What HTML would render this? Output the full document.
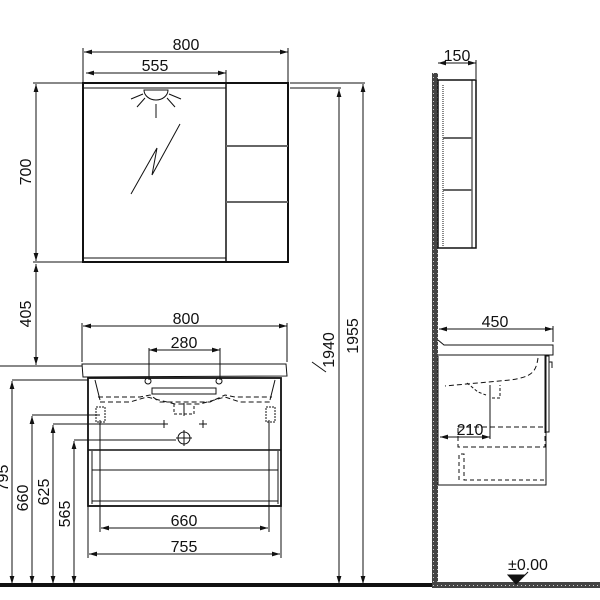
<!DOCTYPE html>
<html><head><meta charset="utf-8"><style>
html,body{margin:0;padding:0;background:#fff;}
svg{display:block;}
text{font-family:"Liberation Sans",sans-serif;font-size:16px;fill:#111;}
</style></head><body>
<svg width="600" height="600" viewBox="0 0 600 600" xmlns="http://www.w3.org/2000/svg">
<defs>
<marker id="a" viewBox="0 0 10 6" refX="10" refY="3" markerWidth="8" markerHeight="5" orient="auto-start-reverse" markerUnits="userSpaceOnUse"><path d="M0,0 L10,3 L0,6z" fill="#111"/></marker>
<pattern id="hatch" width="4" height="4" patternUnits="userSpaceOnUse"><rect width="4" height="4" fill="#444"/><rect x="1" y="1" width="1" height="1" fill="#ccc"/></pattern>
</defs>
<g stroke="#111" fill="none" stroke-width="1">
<!-- MIRROR front -->
<rect x="83" y="83" width="205" height="179" stroke-width="2"/>
<line x1="226" y1="83" x2="226" y2="262" stroke-width="1.5"/>
<line x1="84" y1="88" x2="226" y2="88"/>
<line x1="84" y1="258" x2="226" y2="258"/>
<line x1="226" y1="146" x2="288" y2="146" stroke-width="2" stroke="#666"/>
<line x1="226" y1="202" x2="288" y2="202" stroke-width="2" stroke="#666"/>
<path d="M144,90 A12,10 0 0 0 168,90 Z"/>
<line x1="156" y1="104" x2="156" y2="118"/>
<line x1="145" y1="98" x2="137" y2="107"/>
<line x1="167" y1="98" x2="175" y2="107"/>
<line x1="143" y1="94" x2="131" y2="99"/>
<line x1="169" y1="94" x2="181" y2="99"/>
<polyline points="131,194 157,148 152,175 180,124"/>
<!-- mirror dims -->
<line x1="84" y1="52" x2="288" y2="52" marker-start="url(#a)" marker-end="url(#a)"/>
<line x1="288" y1="48" x2="288" y2="82"/>
<line x1="83" y1="48" x2="83" y2="82"/>
<line x1="86" y1="73" x2="226" y2="73" marker-start="url(#a)" marker-end="url(#a)"/>
<line x1="226" y1="70" x2="226" y2="82"/>
<line x1="33" y1="83" x2="82" y2="83"/>
<line x1="33" y1="262" x2="82" y2="262"/>
<line x1="36" y1="84" x2="36" y2="261" marker-start="url(#a)" marker-end="url(#a)"/>
<line x1="36" y1="264" x2="36" y2="365" marker-start="url(#a)" marker-end="url(#a)"/>
<line x1="290" y1="83" x2="365" y2="83"/>
<line x1="290" y1="88" x2="341" y2="88"/>
<line x1="339" y1="89" x2="339" y2="584" marker-start="url(#a)" marker-end="url(#a)"/>
<line x1="363" y1="84" x2="363" y2="584" marker-start="url(#a)" marker-end="url(#a)"/>
<line x1="312" y1="362" x2="326" y2="372"/>
<!-- SINK front -->
<path d="M82,364 L286,364 L287,376 L83,377 Z"/>
<line x1="0" y1="366" x2="82" y2="366"/>
<rect x="88" y="378" width="193" height="128" stroke-width="1.8"/>
<line x1="88" y1="450" x2="281" y2="450" stroke-width="1.5"/>
<line x1="92" y1="470" x2="278" y2="470"/>
<line x1="92" y1="501" x2="278" y2="501"/>
<line x1="92" y1="451" x2="92" y2="504"/>
<line x1="278" y1="451" x2="278" y2="504"/>
<rect x="152" y="388" width="64" height="6"/>
<circle cx="148" cy="381" r="3"/><circle cx="219" cy="381" r="3"/>
<path d="M95,380 L100,400 M275,380 L270,400"/>
<path d="M98,397 L140,397 L150,395 L160,402 L210,402 L225,395 L235,397 L272,397" stroke-dasharray="5,3"/>
<path d="M100,402 L130,402 L147,397 L175,404 L200,404 L225,397 L240,402 L270,402" stroke-dasharray="5,3"/>
<path d="M174,404 L174,414 L194,414 L194,404" stroke-dasharray="3,2"/>
<line x1="184" y1="403" x2="184" y2="416"/>
<rect x="96" y="407" width="9" height="15" stroke-dasharray="2,1"/>
<rect x="266" y="407" width="9" height="15" stroke-dasharray="2,1"/>
<circle cx="184" cy="438" r="6"/>
<line x1="184" y1="430" x2="184" y2="446"/><line x1="176" y1="438" x2="192" y2="438"/>
<path d="M164,420 v8 M160,424 h8 M203,420 v8 M199,424 h8"/>
<!-- sink dims -->
<line x1="83" y1="326" x2="287" y2="326" marker-start="url(#a)" marker-end="url(#a)"/>
<line x1="82" y1="323" x2="82" y2="362"/><line x1="287" y1="323" x2="287" y2="362"/>
<line x1="149" y1="350" x2="220" y2="350" marker-start="url(#a)" marker-end="url(#a)"/>
<line x1="149" y1="348" x2="149" y2="380"/><line x1="220" y1="348" x2="220" y2="380"/>
<line x1="12" y1="380" x2="88" y2="380"/>
<line x1="32" y1="415" x2="100" y2="415"/>
<line x1="53" y1="424" x2="162" y2="424"/>
<line x1="74" y1="440" x2="176" y2="440"/>
<line x1="12" y1="381" x2="12" y2="584" marker-start="url(#a)" marker-end="url(#a)"/>
<line x1="32" y1="416" x2="32" y2="584" marker-start="url(#a)" marker-end="url(#a)"/>
<line x1="53" y1="425" x2="53" y2="584" marker-start="url(#a)" marker-end="url(#a)"/>
<line x1="74" y1="441" x2="74" y2="584" marker-start="url(#a)" marker-end="url(#a)"/>
<line x1="100" y1="420" x2="100" y2="532"/><line x1="269" y1="420" x2="269" y2="532"/>
<line x1="101" y1="528" x2="268" y2="528" marker-start="url(#a)" marker-end="url(#a)"/>
<line x1="88" y1="506" x2="88" y2="558"/><line x1="281" y1="506" x2="281" y2="558"/>
<line x1="89" y1="554" x2="280" y2="554" marker-start="url(#a)" marker-end="url(#a)"/>
<!-- SIDE view -->
<rect x="432" y="73" width="6" height="513" fill="url(#hatch)" stroke="none"/>
<rect x="432" y="582" width="168" height="6" fill="url(#hatch)" stroke="none"/>
<rect x="438" y="80" width="38" height="168" stroke-width="1.5"/>
<line x1="472" y1="80" x2="472" y2="248"/>
<line x1="443" y1="85" x2="443" y2="246" stroke-dasharray="1,1"/>
<line x1="443" y1="138" x2="472" y2="138" stroke-width="2" stroke="#666"/>
<line x1="443" y1="190" x2="472" y2="190" stroke-width="2" stroke="#666"/>
<line x1="438" y1="63" x2="476" y2="63" marker-start="url(#a)" marker-end="url(#a)"/>
<line x1="476" y1="60" x2="476" y2="79"/>
<line x1="439" y1="329" x2="553" y2="329" marker-start="url(#a)" marker-end="url(#a)"/>
<line x1="553" y1="326" x2="553" y2="342"/>
<path d="M438,340 L444,345 L553,345 L553,355 L438,355"/>
<path d="M438,356 L438,485 L546,485 L546,356"/>
<rect x="545" y="356" width="4" height="76"/>
<path d="M549,362 L552,362 L552,368"/>
<path d="M538,358 C536,372 532,377 510,380 L445,386" stroke-dasharray="5,3"/>
<path d="M467,383 L478,392 L486,395" stroke-dasharray="3,2"/>
<path d="M490,385 L490,398 L500,398 L500,385" stroke-dasharray="3,2"/>
<rect x="458" y="427" width="87" height="20" stroke-dasharray="5,3"/>
<line x1="490" y1="386" x2="490" y2="439"/>
<line x1="440" y1="437" x2="490" y2="437" marker-start="url(#a)" marker-end="url(#a)"/>
<path d="M459,480 L459,454 L464,454 L464,480 L545,480" stroke-dasharray="4,3"/>
<path d="M508,575 L524,575 L516,584 Z" fill="#111"/>
<line x1="516" y1="584" x2="528" y2="572"/>
<line x1="0" y1="585" x2="432" y2="585" stroke-width="4"/>
</g>
<text x="186" y="50" text-anchor="middle">800</text>
<text x="155" y="71" text-anchor="middle">555</text>
<text x="186" y="324" text-anchor="middle">800</text>
<text x="184" y="348" text-anchor="middle">280</text>
<text x="184" y="526" text-anchor="middle">660</text>
<text x="184" y="552" text-anchor="middle">755</text>
<text x="457" y="61" text-anchor="middle">150</text>
<text x="495" y="327" text-anchor="middle">450</text>
<text x="470" y="435" text-anchor="middle">210</text>
<text x="528" y="570" text-anchor="middle">±0.00</text>
<text transform="translate(31,172) rotate(-90)" text-anchor="middle">700</text>
<text transform="translate(31,314) rotate(-90)" text-anchor="middle">405</text>
<text transform="translate(8,478) rotate(-90)" text-anchor="middle">795</text>
<text transform="translate(28,498) rotate(-90)" text-anchor="middle">660</text>
<text transform="translate(49,492) rotate(-90)" text-anchor="middle">625</text>
<text transform="translate(70,514) rotate(-90)" text-anchor="middle">565</text>
<text transform="translate(334,350) rotate(-90)" text-anchor="middle">1940</text>
<text transform="translate(358,336) rotate(-90)" text-anchor="middle">1955</text>
</svg>
</body></html>
